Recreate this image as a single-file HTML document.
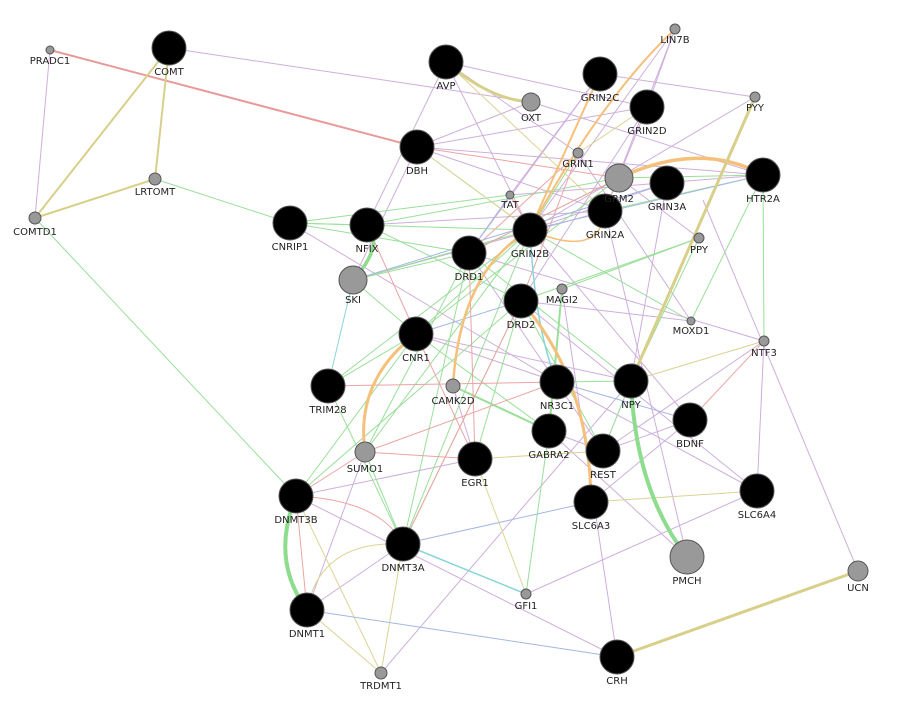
<!DOCTYPE html>
<html><head><meta charset="utf-8"><style>
html,body{margin:0;padding:0;background:#fff;width:900px;height:710px;overflow:hidden}
svg text{font-family:"DejaVu Sans","Liberation Sans",sans-serif;font-size:10px;fill:#222;text-anchor:middle}
</style></head><body>
<svg width="900" height="710" viewBox="0 0 900 710" xmlns="http://www.w3.org/2000/svg">
<g fill="none" stroke-width="1" opacity="0.9">
<g stroke="#c9a6d9">
<line x1="50" y1="50" x2="35" y2="218"/>
<line x1="169" y1="48" x2="531" y2="102"/>
<line x1="446" y1="62" x2="578" y2="153"/>
<line x1="446" y1="62" x2="367" y2="225"/>
<line x1="446" y1="62" x2="647" y2="107"/>
<line x1="675" y1="29" x2="530" y2="230"/>
<line x1="675" y1="29" x2="605" y2="211"/>
<line x1="675" y1="29" x2="647" y2="107"/>
<line x1="600" y1="74" x2="469" y2="253"/>
<line x1="600" y1="74" x2="755" y2="97"/>
<line x1="531" y1="102" x2="417" y2="147"/>
<line x1="531" y1="102" x2="763" y2="175"/>
<line x1="647" y1="107" x2="521" y2="301"/>
<line x1="417" y1="147" x2="763" y2="175"/>
<line x1="417" y1="147" x2="605" y2="211"/>
<line x1="417" y1="147" x2="353" y2="280"/>
<line x1="578" y1="153" x2="691" y2="321"/>
<line x1="619" y1="178" x2="699" y2="238"/>
<line x1="667" y1="183" x2="631" y2="381"/>
<line x1="290" y1="223" x2="557" y2="382"/>
<line x1="367" y1="225" x2="605" y2="211"/>
<line x1="469" y1="253" x2="764" y2="341"/>
<line x1="530" y1="230" x2="690" y2="420"/>
<line x1="521" y1="301" x2="691" y2="321"/>
<line x1="416" y1="334" x2="631" y2="381"/>
<line x1="416" y1="334" x2="557" y2="382"/>
<line x1="557" y1="382" x2="757" y2="491"/>
<line x1="631" y1="381" x2="603" y2="451"/>
<line x1="603" y1="451" x2="764" y2="341"/>
<line x1="603" y1="451" x2="690" y2="420"/>
<line x1="549" y1="431" x2="687" y2="557"/>
<line x1="605" y1="211" x2="687" y2="557"/>
<line x1="562" y1="289" x2="617" y2="657"/>
<line x1="703" y1="200" x2="858" y2="571"/>
<line x1="757" y1="491" x2="526" y2="594"/>
<line x1="764" y1="341" x2="757" y2="491"/>
<line x1="296" y1="496" x2="617" y2="657"/>
<line x1="307" y1="610" x2="403" y2="544"/>
<line x1="381" y1="673" x2="631" y2="381"/>
<line x1="365" y1="452" x2="307" y2="610"/>
<line x1="296" y1="496" x2="475" y2="459"/>
<line x1="453" y1="386" x2="475" y2="459"/>
<line x1="603" y1="451" x2="549" y2="431"/>
<line x1="510" y1="195" x2="763" y2="175"/>
<line x1="353" y1="280" x2="605" y2="211"/>
<line x1="755" y1="97" x2="530" y2="230"/>
<line x1="690" y1="420" x2="591" y2="502"/>
<line x1="647" y1="107" x2="417" y2="147"/>
<line x1="600" y1="74" x2="510" y2="195"/>
<line x1="446" y1="62" x2="530" y2="230"/>
<line x1="469" y1="253" x2="603" y2="451"/>
<line x1="521" y1="301" x2="757" y2="491"/>
<line x1="647" y1="107" x2="605" y2="211"/>
<line x1="667" y1="183" x2="530" y2="230"/>
</g>
<g stroke="#8edc8e">
<line x1="155" y1="179" x2="290" y2="223"/>
<line x1="35" y1="218" x2="296" y2="496"/>
<line x1="290" y1="223" x2="530" y2="230"/>
<line x1="290" y1="223" x2="469" y2="253"/>
<line x1="367" y1="225" x2="619" y2="178"/>
<line x1="367" y1="225" x2="521" y2="301"/>
<line x1="469" y1="253" x2="619" y2="178"/>
<line x1="417" y1="147" x2="530" y2="230"/>
<line x1="353" y1="280" x2="530" y2="230"/>
<line x1="416" y1="334" x2="530" y2="230"/>
<line x1="416" y1="334" x2="619" y2="178"/>
<line x1="328" y1="386" x2="530" y2="230"/>
<line x1="328" y1="386" x2="416" y2="334"/>
<line x1="365" y1="452" x2="530" y2="230"/>
<line x1="365" y1="452" x2="469" y2="253"/>
<line x1="296" y1="496" x2="521" y2="301"/>
<line x1="296" y1="496" x2="416" y2="334"/>
<line x1="403" y1="544" x2="530" y2="230"/>
<line x1="403" y1="544" x2="521" y2="301"/>
<line x1="403" y1="544" x2="365" y2="452"/>
<line x1="475" y1="459" x2="521" y2="301"/>
<line x1="453" y1="386" x2="549" y2="431" stroke-width="2"/>
<line x1="416" y1="334" x2="549" y2="431"/>
<line x1="521" y1="301" x2="699" y2="238"/>
<line x1="562" y1="289" x2="699" y2="238"/>
<line x1="562" y1="289" x2="549" y2="431" stroke-width="2"/>
<line x1="699" y1="238" x2="631" y2="381"/>
<line x1="763" y1="175" x2="764" y2="341"/>
<line x1="763" y1="175" x2="691" y2="321"/>
<line x1="763" y1="175" x2="619" y2="178"/>
<line x1="557" y1="382" x2="631" y2="381"/>
<line x1="469" y1="253" x2="631" y2="381"/>
<line x1="530" y1="230" x2="691" y2="321"/>
<line x1="603" y1="451" x2="631" y2="381"/>
<line x1="549" y1="431" x2="526" y2="594"/>
<line x1="403" y1="544" x2="469" y2="253"/>
<line x1="328" y1="386" x2="403" y2="544"/>
<line x1="290" y1="223" x2="367" y2="225"/>
<line x1="353" y1="280" x2="469" y2="253"/>
<line x1="353" y1="280" x2="416" y2="334"/>
<line x1="510" y1="195" x2="290" y2="223"/>
<line x1="605" y1="211" x2="763" y2="175"/>
<line x1="578" y1="153" x2="530" y2="230"/>
<line x1="521" y1="301" x2="603" y2="451"/>
</g>
<g stroke="#ea9a9a">
<line x1="578" y1="153" x2="469" y2="253"/>
<line x1="578" y1="153" x2="521" y2="301"/>
<line x1="619" y1="178" x2="417" y2="147"/>
<line x1="510" y1="195" x2="530" y2="230"/>
<line x1="328" y1="386" x2="557" y2="382"/>
<line x1="365" y1="452" x2="475" y2="459"/>
<line x1="365" y1="452" x2="557" y2="382"/>
<line x1="416" y1="334" x2="475" y2="459"/>
<line x1="403" y1="544" x2="521" y2="301"/>
<line x1="475" y1="459" x2="469" y2="253"/>
<line x1="296" y1="496" x2="365" y2="452"/>
<line x1="307" y1="610" x2="296" y2="496"/>
<line x1="764" y1="341" x2="690" y2="420"/>
<line x1="367" y1="225" x2="416" y2="334"/>
<line x1="619" y1="178" x2="469" y2="253"/>
<line x1="600" y1="74" x2="530" y2="230"/>
<path d="M296 496 Q380 500 403 544"/>
</g>
<g stroke="#d8cf8a">
<line x1="475" y1="459" x2="603" y2="451"/>
<line x1="475" y1="459" x2="526" y2="594"/>
<line x1="591" y1="502" x2="757" y2="491"/>
<line x1="296" y1="496" x2="381" y2="673"/>
<line x1="403" y1="544" x2="381" y2="673"/>
<line x1="307" y1="610" x2="381" y2="673"/>
<line x1="417" y1="147" x2="530" y2="230"/>
<line x1="446" y1="62" x2="605" y2="211"/>
<line x1="764" y1="341" x2="631" y2="381"/>
<line x1="578" y1="153" x2="647" y2="107"/>
<path d="M307 610 Q320 540 403 544"/>
</g>
<g stroke="#9ab0e0">
<line x1="307" y1="610" x2="617" y2="657"/>
<line x1="591" y1="502" x2="403" y2="544"/>
<line x1="353" y1="280" x2="667" y2="183"/>
<line x1="530" y1="230" x2="763" y2="175"/>
<line x1="521" y1="301" x2="416" y2="334"/>
<line x1="557" y1="382" x2="690" y2="420"/>
<line x1="510" y1="195" x2="469" y2="253"/>
</g>
<line x1="403" y1="544" x2="526" y2="594" stroke="#7fd0d8" stroke-width="1.5"/>
<line x1="353" y1="280" x2="328" y2="386" stroke="#7fd0d8"/>
<path d="M530 230 Q535 330 557 382" stroke="#7fd0d8" stroke-width="1.5"/>
</g>
<g fill="none" stroke-linecap="round">
<line x1="50" y1="50" x2="417" y2="147" stroke="#e89a9a" stroke-width="2"/>
<line x1="169" y1="48" x2="155" y2="179" stroke="#d8cf8a" stroke-width="2"/>
<line x1="169" y1="48" x2="35" y2="218" stroke="#d8cf8a" stroke-width="2"/>
<line x1="155" y1="179" x2="35" y2="218" stroke="#d8cf8a" stroke-width="2"/>
<path d="M446 62 Q490 100 531 102" stroke="#d8cf8a" stroke-width="3"/>
<path d="M619 178 Q700 140 763 175" stroke="#f5c07a" stroke-width="3.5"/>
<path d="M530 230 Q600 100 675 29" stroke="#f5c07a" stroke-width="2"/>
<path d="M530 230 Q570 140 600 74" stroke="#f5c07a" stroke-width="2"/>
<path d="M530 230 Q460 270 453 386" stroke="#f5c07a" stroke-width="2.5"/>
<path d="M416 334 Q355 380 365 452" stroke="#f5c07a" stroke-width="3"/>
<path d="M521 301 Q590 380 591 502" stroke="#f5c07a" stroke-width="3"/>
<path d="M530 230 Q600 260 605 211" stroke="#f5c07a" stroke-width="1.5"/>
<path d="M367 225 Q385 245 353 280" stroke="#8edc8e" stroke-width="3.5"/>
<path d="M296 496 Q270 560 307 610" stroke="#8edc8e" stroke-width="4"/>
<path d="M631 381 Q635 490 687 557" stroke="#8edc8e" stroke-width="4"/>
<line x1="755" y1="97" x2="631" y2="381" stroke="#d8cf8a" stroke-width="3"/>
<line x1="617" y1="657" x2="858" y2="571" stroke="#d8cf8a" stroke-width="3"/>
</g>
<g stroke="#555" stroke-width="1">
<g fill="#000">
<circle cx="169" cy="48" r="17"/><circle cx="446" cy="62" r="17"/><circle cx="600" cy="74" r="17"/>
<circle cx="647" cy="107" r="17"/><circle cx="417" cy="147" r="17"/><circle cx="667" cy="183" r="17"/>
<circle cx="763" cy="175" r="17"/><circle cx="290" cy="223" r="17"/><circle cx="367" cy="225" r="17"/>
<circle cx="605" cy="211" r="17"/><circle cx="530" cy="230" r="17"/><circle cx="469" cy="253" r="17"/>
<circle cx="521" cy="301" r="17"/><circle cx="416" cy="334" r="17"/><circle cx="328" cy="386" r="17"/>
<circle cx="557" cy="382" r="17"/><circle cx="631" cy="381" r="17"/><circle cx="690" cy="420" r="17"/>
<circle cx="549" cy="431" r="17"/><circle cx="603" cy="451" r="17"/><circle cx="475" cy="459" r="17"/>
<circle cx="296" cy="496" r="17"/><circle cx="757" cy="491" r="17"/><circle cx="591" cy="502" r="17"/>
<circle cx="403" cy="544" r="17"/><circle cx="307" cy="610" r="17"/><circle cx="617" cy="657" r="17"/>
</g>
<g fill="#999">
<circle cx="50" cy="50" r="4"/><circle cx="675" cy="29" r="5"/><circle cx="531" cy="102" r="9"/>
<circle cx="755" cy="97" r="5"/><circle cx="578" cy="153" r="5"/><circle cx="619" cy="178" r="14"/>
<circle cx="155" cy="179" r="6"/><circle cx="510" cy="195" r="4"/><circle cx="35" cy="218" r="6"/>
<circle cx="699" cy="238" r="5"/><circle cx="353" cy="280" r="14"/><circle cx="562" cy="289" r="5"/>
<circle cx="691" cy="321" r="4"/><circle cx="764" cy="341" r="5"/><circle cx="453" cy="386" r="7"/>
<circle cx="365" cy="452" r="10"/><circle cx="687" cy="557" r="17"/><circle cx="858" cy="571" r="10"/>
<circle cx="526" cy="594" r="5"/><circle cx="381" cy="673" r="6"/>
</g>
</g>
<g>
<text x="50" y="64">PRADC1</text><text x="169" y="75">COMT</text><text x="446" y="89">AVP</text>
<text x="675" y="43">LIN7B</text><text x="600" y="101">GRIN2C</text><text x="531" y="121">OXT</text>
<text x="647" y="134">GRIN2D</text><text x="755" y="111">PYY</text><text x="417" y="174">DBH</text>
<text x="578" y="167">GRIN1</text><text x="619" y="202">GRM2</text><text x="667" y="210">GRIN3A</text>
<text x="763" y="202">HTR2A</text><text x="155" y="195">LRTOMT</text><text x="510" y="208">TAT</text>
<text x="35" y="235">COMTD1</text><text x="290" y="250">CNRIP1</text><text x="367" y="252">NFIX</text>
<text x="605" y="238">GRIN2A</text><text x="530" y="257">GRIN2B</text><text x="469" y="280">DRD1</text>
<text x="699" y="253">PPY</text><text x="353" y="303">SKI</text><text x="562" y="303">MAGI2</text>
<text x="521" y="328">DRD2</text><text x="691" y="334">MOXD1</text><text x="764" y="356">NTF3</text>
<text x="416" y="361">CNR1</text><text x="328" y="413">TRIM28</text><text x="453" y="404">CAMK2D</text>
<text x="557" y="409">NR3C1</text><text x="631" y="408">NPY</text><text x="690" y="447">BDNF</text>
<text x="549" y="458">GABRA2</text><text x="603" y="478">REST</text><text x="365" y="472">SUMO1</text>
<text x="475" y="486">EGR1</text><text x="296" y="523">DNMT3B</text><text x="757" y="518">SLC6A4</text>
<text x="591" y="529">SLC6A3</text><text x="403" y="571">DNMT3A</text><text x="687" y="584">PMCH</text>
<text x="858" y="591">UCN</text><text x="526" y="609">GFI1</text><text x="307" y="637">DNMT1</text>
<text x="617" y="684">CRH</text><text x="381" y="689">TRDMT1</text>
</g>
</svg>
</body></html>
